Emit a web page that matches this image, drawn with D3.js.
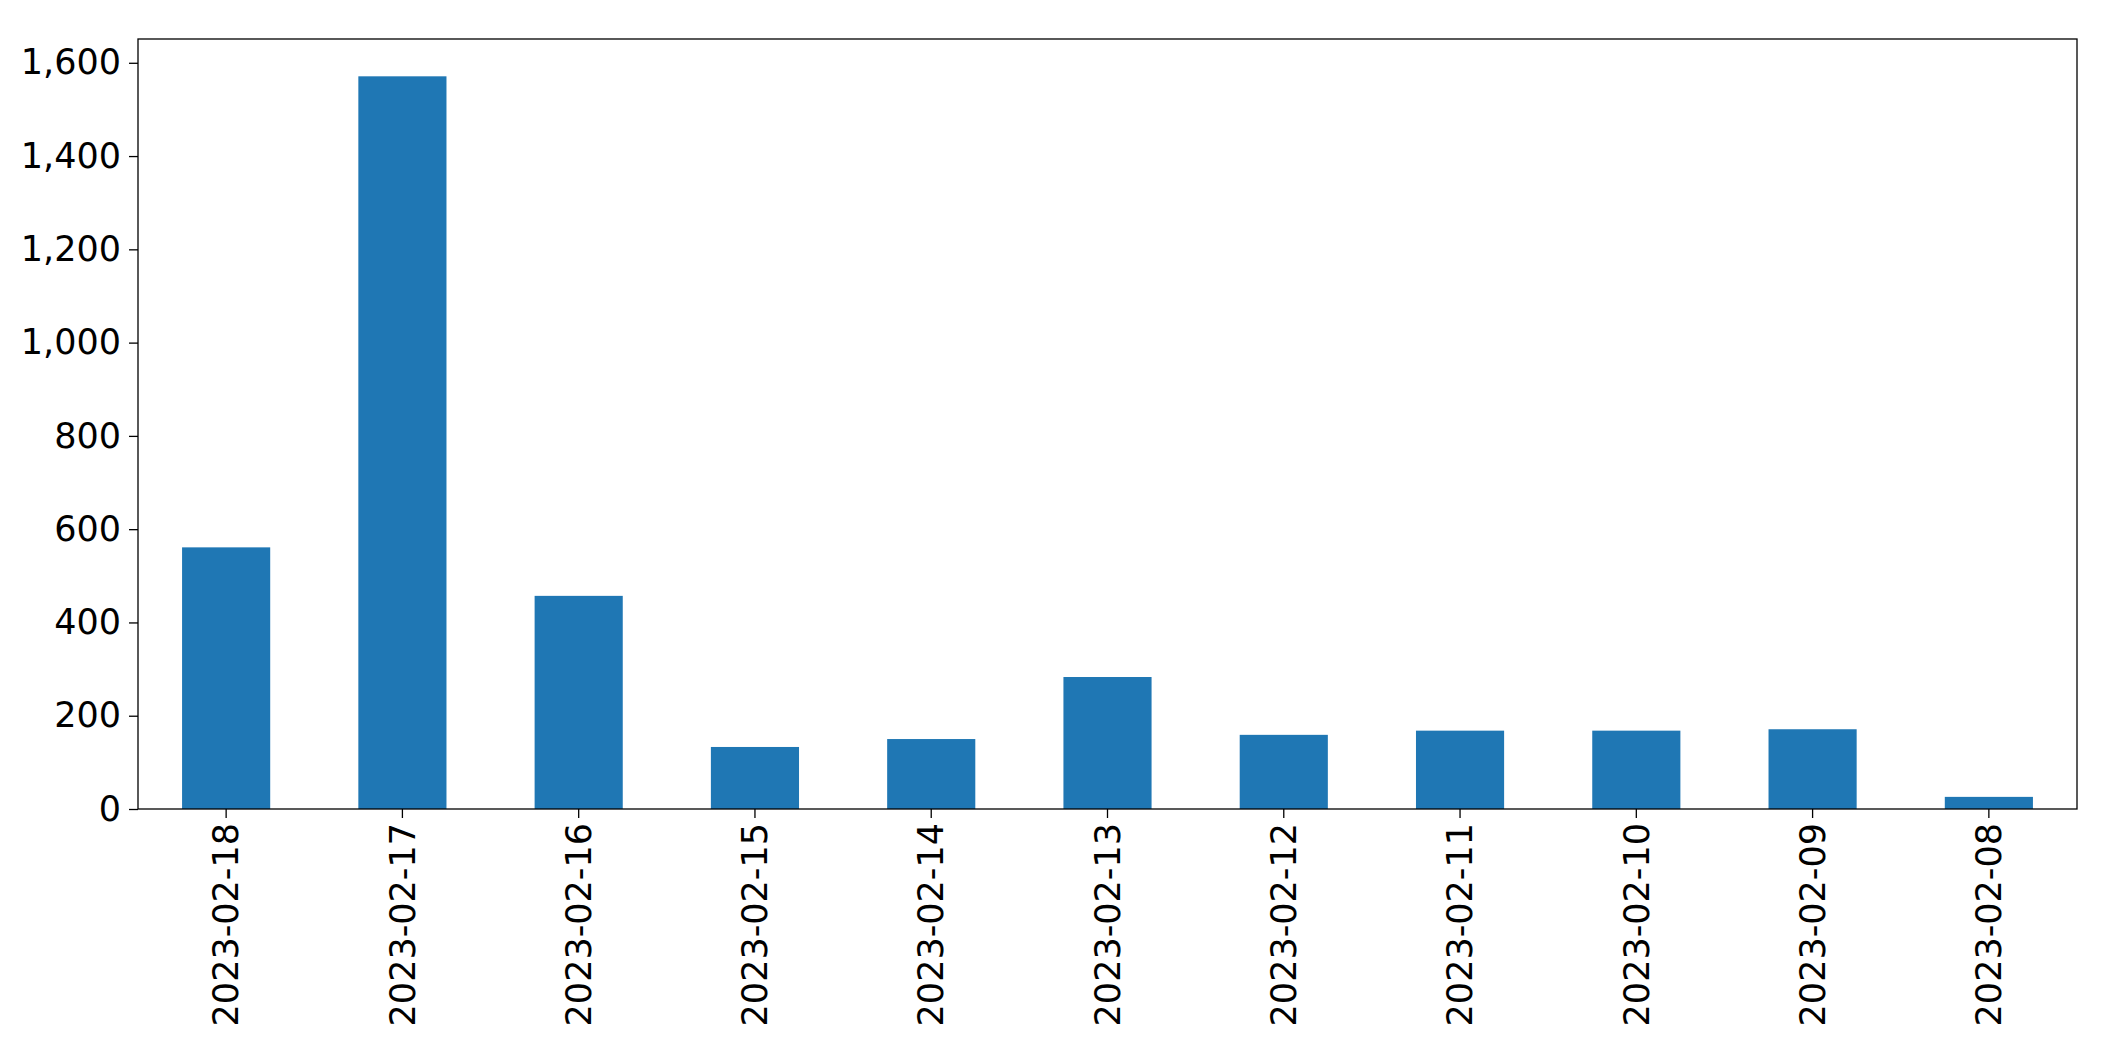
<!DOCTYPE html>
<html>
<head>
<meta charset="utf-8">
<script src="https://d3js.org/d3.v7.min.js"></script>
<style>
  body { margin: 0; background: #fff; }
  text { font-family: "DejaVu Sans", sans-serif; }
</style>
</head>
<body>
<div id="chart"></div>
<script>
const dates = ["2023-02-18", "2023-02-17", "2023-02-16", "2023-02-15", "2023-02-14", "2023-02-13",
  "2023-02-12", "2023-02-11", "2023-02-10", "2023-02-09", "2023-02-08"];
const counts = [561, 1571, 457, 133, 150, 283, 159, 168, 168, 171, 26];
const yTicks = [0, 200, 400, 600, 800, 1000, 1200, 1400, 1600];

const width = 2115, height = 1061;
const margin = { top: 39, right: 38, bottom: 252, left: 138 };

const svg = d3.select("#chart").append("svg")
  .attr("width", width)
  .attr("height", height);

const x = d3.scaleBand()
  .domain(dates)
  .range([margin.left, width - margin.right])
  .paddingInner(0.5)
  .paddingOuter(0.25);

const y = d3.scaleLinear()
  .domain([0, 1651])
  .range([height - margin.bottom, margin.top]);

// Balken
svg.selectAll(".bar")
  .data(dates)
  .enter()
  .append("rect")
  .attr("class", "bar")
  .attr("x", d => x(d))
  .attr("y", (d, i) => y(counts[i]))
  .attr("width", x.bandwidth())
  .attr("height", (d, i) => y(0) - y(counts[i]))
  .attr("fill", "#1f77b4");

// Achsen
const xAxis = svg.append("g")
  .attr("transform", `translate(0,${height - margin.bottom})`)
  .call(d3.axisBottom(x).tickSize(9).tickSizeOuter(0));
xAxis.selectAll("text")
  .attr("transform", "rotate(-90)")
  .attr("x", -14)
  .attr("y", 0)
  .attr("dy", "0.35em")
  .style("text-anchor", "end")
  .style("font-size", "35px")
  .attr("fill", "#000");

const yAxis = svg.append("g")
  .attr("transform", `translate(${margin.left},0)`)
  .call(d3.axisLeft(y).tickValues(yTicks).tickSize(9).tickSizeOuter(0).tickPadding(8));
yAxis.selectAll("text")
  .style("font-size", "35px")
  .attr("fill", "#000");

svg.selectAll(".domain").remove();
svg.selectAll(".tick line").attr("stroke", "#000").attr("stroke-width", 1.3);

// Rahmen
svg.append("rect")
  .attr("x", margin.left)
  .attr("y", margin.top)
  .attr("width", width - margin.left - margin.right)
  .attr("height", height - margin.top - margin.bottom)
  .attr("fill", "none")
  .attr("stroke", "#000")
  .attr("stroke-width", 1.3);
</script>
</body>
</html>
